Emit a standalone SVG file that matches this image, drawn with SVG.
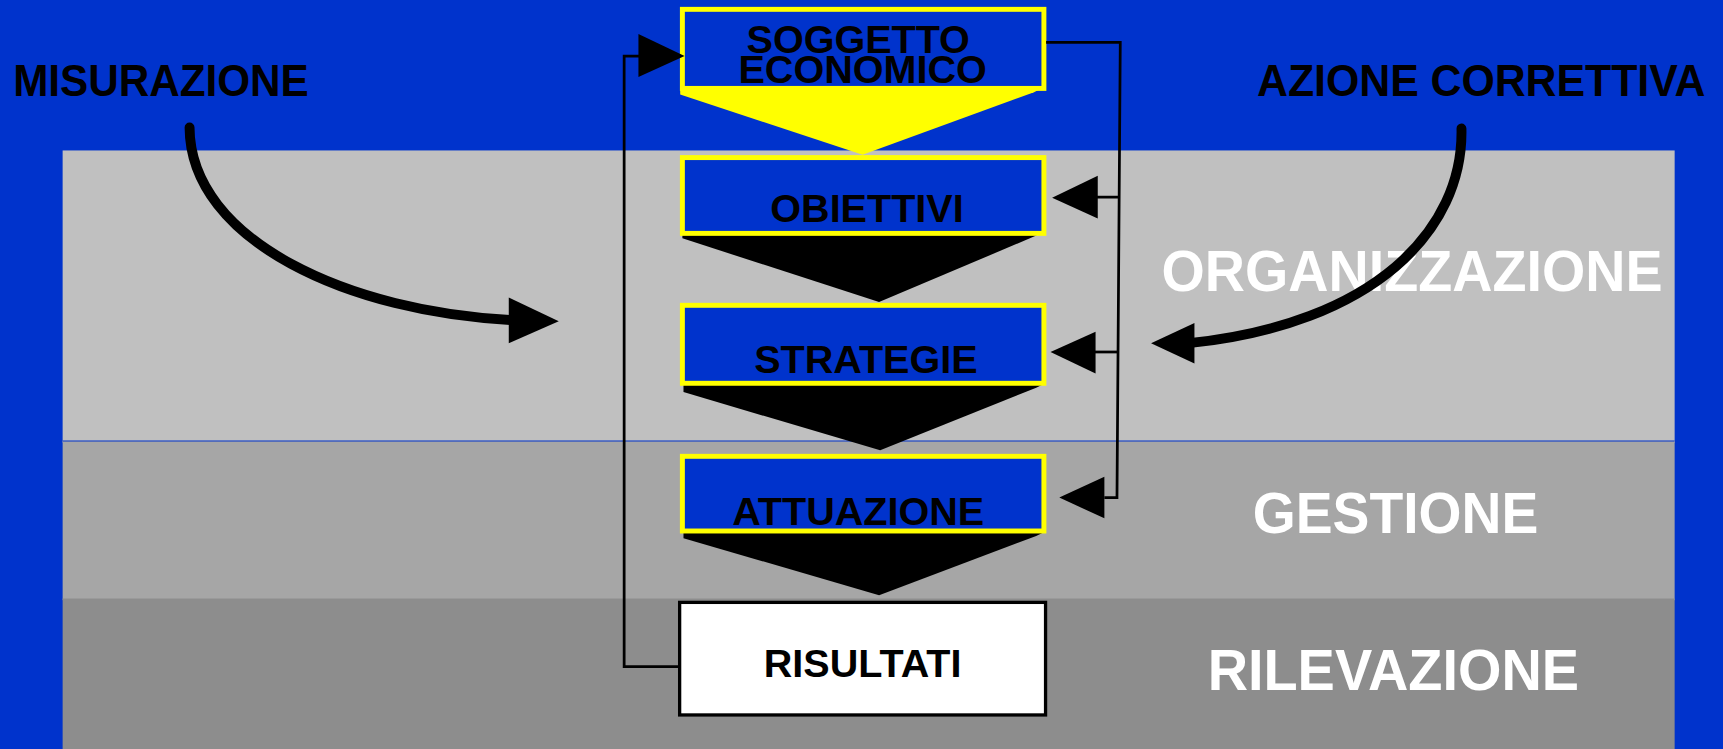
<svg xmlns="http://www.w3.org/2000/svg" width="1723" height="749" viewBox="0 0 1723 749">
<style>
.t{font-family:"Liberation Sans",Arial,sans-serif;font-weight:bold}
.bx{font-size:36px;fill:#000;text-anchor:middle}
.band{font-size:52px;fill:#fff}
.ext{font-size:41px;fill:#000}
.node{fill:#0033CC;stroke:#FFFF00;stroke-width:4.5}
.chev{fill:#000}
.thin{fill:none;stroke:#000;stroke-width:2.5}
.curve{fill:none;stroke:#000;stroke-width:9;stroke-linecap:round}
</style>
<g transform="scale(1.09885 1.09824)">
<g id="background">
<rect x="0" y="0" width="1568" height="682" fill="#0033CC"/>
<rect x="57" y="137" width="1467" height="266" fill="#C0C0C0"/>
<rect x="57" y="401.5" width="1467" height="145" fill="#A6A6A6"/>
<rect x="57" y="545" width="1467" height="140" fill="#8D8D8D"/>
<line x1="57" y1="401.5" x2="1524" y2="401.5" stroke="#0033CC" stroke-width="1"/>
</g>
<g id="labels">
<text class="t ext" x="12" y="87" textLength="269" lengthAdjust="spacingAndGlyphs">MISURAZIONE</text>
<text class="t ext" x="1144" y="87" textLength="408" lengthAdjust="spacingAndGlyphs">AZIONE CORRETTIVA</text>
<text class="t band" x="1057" y="265" textLength="456" lengthAdjust="spacingAndGlyphs">ORGANIZZAZIONE</text>
<text class="t band" x="1140" y="485" textLength="260" lengthAdjust="spacingAndGlyphs">GESTIONE</text>
<text class="t band" x="1099" y="628" textLength="338" lengthAdjust="spacingAndGlyphs">RILEVAZIONE</text>
</g>
<g id="chevrons">
<polygon points="619,80 949,80 941,84 785,141 619,86" fill="#FFFF00"/>
<polygon class="chev" points="621,212 948,212 942,215 800,275 621,217"/>
<polygon class="chev" points="622,350 949,350 943,353 801,410 622,357"/>
<polygon class="chev" points="622,485 949,485 943,488 800,542 622,490"/>
</g>
<g id="soggetto">
<rect class="node" x="621" y="8.5" width="329" height="72"/>
<text class="t bx" x="781" y="48">SOGGETTO</text>
<text class="t bx" x="785" y="76">ECONOMICO</text>
</g>
<g id="obiettivi">
<rect class="node" x="621" y="143.5" width="329" height="69"/>
<text class="t bx" x="789" y="202">OBIETTIVI</text>
</g>
<g id="strategie">
<rect class="node" x="621" y="278" width="329" height="71"/>
<text class="t bx" x="788" y="340">STRATEGIE</text>
</g>
<g id="attuazione">
<rect class="node" x="621" y="415.5" width="329" height="68"/>
<text class="t bx" x="781" y="478">ATTUAZIONE</text>
</g>
<g id="risultati">
<rect x="618.5" y="548.5" width="333" height="102.5" fill="#fff" stroke="#000" stroke-width="3"/>
<text class="t bx" x="785" y="616">RISULTATI</text>
</g>
<g id="connectors">
<polyline class="thin" points="617,607 568,607 568,51 590,51"/>
<polygon points="581,31 623,51 581,70" fill="#000"/>
<polyline class="thin" points="952,38.5 1019.5,38.5 1016.5,453 1005,453"/>
<line class="thin" x1="1019" y1="179.5" x2="995" y2="179.5"/>
<polygon points="999,160 957.5,180 999,199" fill="#000"/>
<line class="thin" x1="1018" y1="320.5" x2="993" y2="320.5"/>
<polygon points="997,302 956,320.5 997,340" fill="#000"/>
<polygon points="1005,434 964,453 1005,472" fill="#000"/>
<path class="curve" d="M172.5,116 C173,220 320,285 468,291.5"/>
<polygon points="463,271 508.5,292.5 463,312.5" fill="#000"/>
<path class="curve" d="M1330,117 C1332,210 1250,295 1082,312.5"/>
<polygon points="1087,294 1047.5,312.5 1087,331" fill="#000"/>
</g>
</g>
</svg>
